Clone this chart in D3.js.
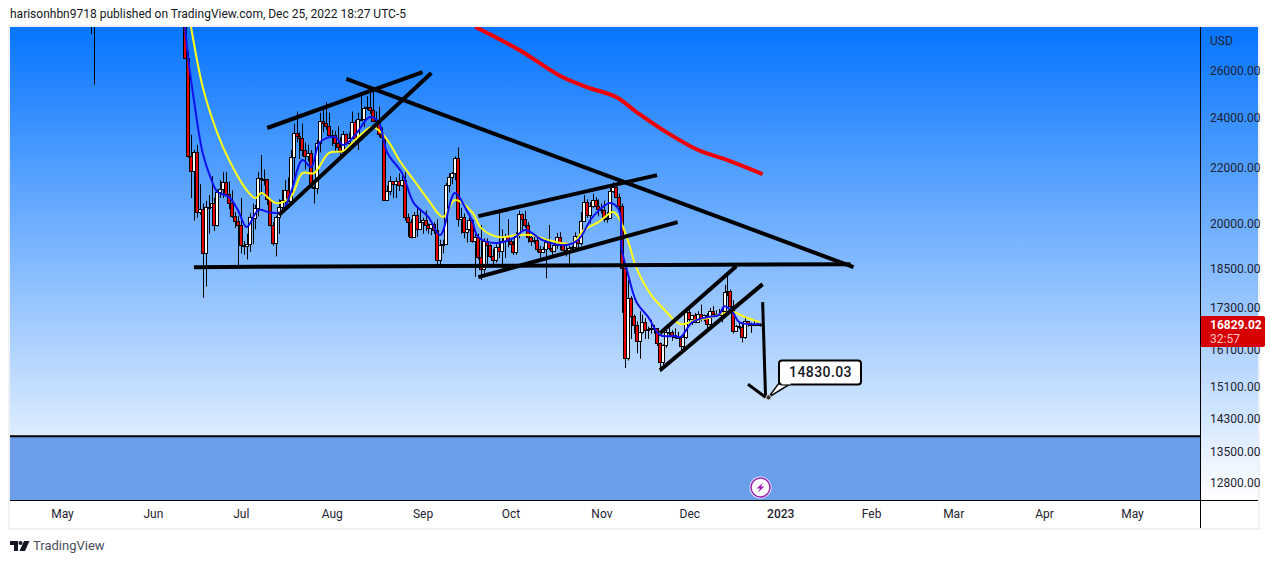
<!DOCTYPE html>
<html><head><meta charset="utf-8">
<script src="https://d3js.org/d3.v7.min.js"></script>
<style>html,body{margin:0;padding:0;background:#fff;overflow:hidden}svg{display:block}text{font-family:Roboto,sans-serif}</style>
</head><body><svg id="c" width="1280" height="563"></svg>
<script>
// Daily candles start on firstDay; every open is the previous close.
const firstDay = "2022-06-11";
const seedOpen = 29080;
const closes = [28400,26570,22480,21900,22600,20400,20500,19000,20570,20570,20710,19960,21100,21230,21490,21040,20730,20270,20100,19940,
19270,19240,19300,20230,20190,20550,21640,21590,21590,20850,19960,19330,20210,20580,20830,21190,20780,22430,23390,23230,23160,22680,22450,22580,21310,21250,22960,23840,23770,23650,23290,
23270,22980,22820,22620,23310,22960,23170,23810,23150,23950,23930,24400,24440,24300,23860,23890,23330,23210,20830,21140,21520,21400,21530,21370,21560,20240,20040,19550,20290,19800,20050,
20130,19950,19830,20000,19790,18790,19290,19320,21360,21650,21830,22400,20170,20230,19700,19800,20110,19420,19540,18880,18490,19400,19290,18920,18800,19220,19080,19410,19590,19420,
19310,19060,19630,20340,20160,19960,19530,19420,19440,19130,19060,19150,19380,19180,19070,19260,19550,19330,19120,19040,19160,19200,19570,19330,20080,20770,20290,20600,20820,20630,20490,
20480,20150,20200,21140,21300,20920,20600,18540,15880,17590,17070,16800,16330,16610,16890,16660,16690,16700,16700,16280,15770,16220,16600,16600,16520,16460,16430,16210,16440,17170,
16970,17090,16890,17110,16970,17090,16840,17220,17130,17130,17080,17210,17780,17810,17360,16630,16780,16740,16440,16900,16820,16830,16830,16840,16829.02];
const highs = [29400,28500,26900,23300,22700,22900,21400,20700,20800,21000,21700,20900,21200,21550,21850,21850,21500,21180,20400,20250,
20900,19400,19650,20350,20700,20650,21850,22500,21950,21600,20850,20050,20250,20850,21200,21550,21650,22700,23750,24250,23400,23750,22990,22900,22700,21350,23100,24200,24450,24650,24200,
23500,23450,23650,23200,23450,23350,23400,24250,23900,24200,24900,24450,24900,25050,25200,24250,24450,23600,23200,21350,21700,21500,21650,21800,21800,21850,20350,20150,20400,20550,20500,
20200,20450,20000,20050,20050,20150,19450,19450,21450,21800,21850,22450,22800,20550,20350,19900,20200,20150,19700,19650,19950,19500,19500,19300,19150,19300,20400,19800,19650,20150,
19480,19400,19700,20450,20350,20450,20050,19600,19550,19520,19250,19220,19500,19950,19220,19400,19680,19700,19350,19350,19250,19250,19700,19600,20400,21000,20850,20750,21050,20930,20850,
20700,20800,20400,21300,21480,21350,21050,20700,18600,18150,17650,17100,16900,17200,17100,17000,16750,16950,16800,16700,16300,16250,16700,16800,16650,16700,16600,16480,16550,17250,
17300,17100,17150,17200,17400,17100,17140,17300,17350,17230,17270,17240,18000,18380,17850,17530,16800,16870,16820,17050,16900,16870,16950,16870,16850];
const lows = [28100,26560,22400,20900,20100,20200,20300,17600,17950,19650,20350,19750,19900,20900,20900,20950,20500,20200,19850,18600,
19000,18950,18800,19050,19300,19800,20250,21000,21350,20650,19900,19250,18900,19650,20400,20500,20750,20750,21600,23000,22350,22450,21950,22250,21250,20700,21050,22600,23400,23500,23200,
22850,22650,22700,22450,22600,22900,22850,23150,22900,22700,23850,23600,24300,24150,23800,23650,23200,23100,20800,20800,21000,20900,20900,21150,21300,20100,19550,19500,19550,19550,19800,
19650,19750,19650,19600,19650,18650,18550,19000,19300,21100,21400,21550,19900,19650,19500,19350,19750,19350,18250,18800,18150,18350,18550,18850,18650,18700,18850,18500,18850,19200,
19150,18950,18950,19500,19750,19850,19350,19250,19320,19030,18850,19010,18200,19100,18950,19060,19150,19100,19070,18900,18650,19100,19070,19150,19250,20050,20200,20000,20550,20500,20250,
20350,20050,20030,20180,21080,20900,20400,17150,15600,15800,16400,16550,16000,15850,16550,16400,16400,16550,16550,16200,15500,15650,16150,16450,16350,16400,16400,16000,16100,16400,
16850,16800,16850,16880,16900,16900,16700,16750,17100,17090,17070,16870,17100,17650,17300,16550,16600,16680,16300,16400,16750,16570,16780,16810,16750];
// Two May candles whose lows reach into the window.
const mayDays = ["2022-05-11","2022-05-12"];
const mayOpens = [31000,29000];
const mayCloses = [29000,29000];
const mayHighs = [32000,30000];
const mayLows = [27700,25400];

const fastDates = ["2022-06-12","2022-06-13","2022-06-15","2022-06-18","2022-06-21","2022-06-23","2022-06-27","2022-06-30","2022-07-03","2022-07-07","2022-07-11","2022-07-15","2022-07-18","2022-07-22","2022-07-25","2022-07-28","2022-08-02","2022-08-05","2022-08-09","2022-08-14","2022-08-17","2022-08-20","2022-08-25","2022-08-29","2022-09-03","2022-09-07","2022-09-12","2022-09-16","2022-09-18","2022-09-20","2022-09-26","2022-10-02","2022-10-06","2022-10-12","2022-10-19","2022-10-24","2022-10-29","2022-11-04","2022-11-07","2022-11-08","2022-11-10","2022-11-13","2022-11-17","2022-11-21","2022-11-26","2022-11-28","2022-12-02","2022-12-07","2022-12-11","2022-12-13","2022-12-16","2022-12-18","2022-12-25"];
const fastValues = [28046,26634,24734,22578,21554,21119,20930,20467,19877,20467,20384,20410,21075,22308,22040,23010,23208,22892,23288,24021,23815,22578,21815,20716,20223,19606,21075,20467,20077,19539,19338,19505,19775,19438,19270,19438,20223,20716,20467,19106,18364,17470,17025,16507,16480,16453,16880,17025,17085,17350,17144,16880,16829];
const slowDates = ["2022-06-13","2022-06-14","2022-06-18","2022-06-23","2022-06-27","2022-07-03","2022-07-06","2022-07-08","2022-07-13","2022-07-18","2022-07-22","2022-07-26","2022-07-31","2022-08-05","2022-08-09","2022-08-15","2022-08-20","2022-08-24","2022-08-29","2022-09-03","2022-09-08","2022-09-12","2022-09-18","2022-09-21","2022-09-27","2022-10-03","2022-10-08","2022-10-14","2022-10-22","2022-10-26","2022-10-31","2022-11-05","2022-11-07","2022-11-10","2022-11-13","2022-11-18","2022-11-22","2022-11-28","2022-12-03","2022-12-07","2022-12-13","2022-12-16","2022-12-20","2022-12-25"];
const slowValues = [28800,28046,25294,23368,22308,21184,20893,21075,20716,20930,21815,21815,22578,22656,23089,23611,23089,22308,21554,20823,20223,20823,20384,19842,19539,19606,19606,19438,19338,19775,20049,20397,20188,19438,18523,17682,17291,16822,16937,16995,17144,17174,17025,16880];
const longDates = ["2022-09-19","2022-10-04","2022-10-18","2022-10-27","2022-11-06","2022-11-13","2022-11-22","2022-12-04","2022-12-14","2022-12-26"];
const longValues = [28046,26956,25777,25294,24863,24228,23490,22696,22308,21776];

// Hand-drawn trendlines: start date, start price, end date, end price.
const trendStartDates = ["2022-07-10","2022-07-14","2022-08-06","2022-06-15","2022-09-20","2022-09-20","2022-11-21","2022-11-21"];
const trendStartPrices = [23572,20292,25646,18555,20257,18238,16563,15540];
const trendEndDates = ["2022-09-01","2022-09-04","2023-01-26","2023-01-25","2022-11-20","2022-11-27","2022-12-17","2022-12-26"];
const trendEndPrices = [25955,25911,18555,18650,21738,20049,18587,18020];
const targetPrice = 14830.03;
const targetDate = "2022-12-27";
const calloutDate = "2022-12-28";
const arrowTails = [["2022-12-26",17472],["2022-12-21",15171]];
const supportBandTop = 13870;

const priceTicks = [26000,24000,22000,20000,18500,17300,16100,15100,14300,13500,12800];
const monthDates = ["2022-05-01","2022-06-01","2022-07-01","2022-08-01","2022-09-01","2022-10-01","2022-11-01","2022-12-01","2023-01-01","2023-02-01","2023-03-01","2023-04-01","2023-05-01"];
const monthLabels = ["May","Jun","Jul","Aug","Sep","Oct","Nov","Dec","2023","Feb","Mar","Apr","May"];

const parse = d3.utcParse("%Y-%m-%d");
const svg = d3.select("#c");
const L=10,R=1258,T=27,B=500,AX=1200,BOT=528;
const x = d3.scaleUtc().domain([parse("2022-05-01"),parse("2023-05-01")]).range([62,1132]);
const y = d3.scaleLog().domain([26000,12800]).range([71,483]);

const defs = svg.append("defs");
const g = defs.append("linearGradient").attr("id","bg").attr("x1",0).attr("y1",0).attr("x2",0).attr("y2",1);
g.append("stop").attr("offset",0).attr("stop-color","#0775ff");
g.append("stop").attr("offset",1).attr("stop-color","#ffffff");
defs.append("clipPath").attr("id","pane").append("rect").attr("x",L).attr("y",T).attr("width",AX-L).attr("height",B-T);

svg.append("rect").attr("x",L-1).attr("y",T-1).attr("width",R-L+2).attr("height",BOT-T+2).attr("fill","#fff").attr("stroke","#e0e3eb").attr("stroke-width",1);
svg.append("rect").attr("x",L).attr("y",T).attr("width",R-L).attr("height",B-T).attr("fill","url(#bg)");

const pane = svg.append("g").attr("clip-path","url(#pane)");
const bandY = y(supportBandTop);
pane.append("rect").attr("x",L).attr("y",bandY).attr("width",AX-L).attr("height",B-bandY).attr("fill","#6b9ee8");
pane.append("line").attr("x1",L).attr("x2",AX).attr("y1",bandY).attr("y2",bandY).attr("stroke","#000").attr("stroke-width",2);

const t0 = parse(firstDay);
const candles = closes.map((c,i)=>({d:d3.utcDay.offset(t0,i),o:i?closes[i-1]:seedOpen,h:highs[i],l:lows[i],c}));
mayDays.forEach((s,i)=>candles.push({d:parse(s),o:mayOpens[i],h:mayHighs[i],l:mayLows[i],c:mayCloses[i]}));
const snap=v=>Math.round(v)+.5;

pane.append("g").selectAll("line").data(candles).join("line")
  .attr("x1",d=>Math.round(x(d.d))+.5).attr("x2",d=>Math.round(x(d.d))+.5)
  .attr("y1",d=>y(d.h)).attr("y2",d=>y(d.l)).attr("stroke","#000").attr("stroke-width",1);
pane.append("g").selectAll("rect").data(candles).join("rect")
  .attr("x",d=>Math.round(x(d.d))-1.5).attr("width",3)
  .attr("y",d=>snap(y(Math.max(d.o,d.c))))
  .attr("height",d=>Math.max(1,snap(y(Math.min(d.o,d.c)))-snap(y(Math.max(d.o,d.c)))))
  .attr("fill",d=>d.c>=d.o?"#fff":"#e60000").attr("stroke","#000").attr("stroke-width",1);

const lineGen = d3.line().x(d=>x(d[0])).y(d=>y(d[1])).curve(d3.curveCatmullRom.alpha(.5));
const ser=(ds,vs)=>ds.map((s,i)=>[parse(s),vs[i]]);
pane.append("path").attr("d",lineGen(ser(slowDates,slowValues))).attr("fill","none").attr("stroke","#ffff14").attr("stroke-width",2);
pane.append("path").attr("d",lineGen(ser(fastDates,fastValues))).attr("fill","none").attr("stroke","#1010f0").attr("stroke-width",2);
pane.append("path").attr("d",lineGen(ser(longDates,longValues))).attr("fill","none").attr("stroke","#f00000").attr("stroke-width",4);

pane.append("g").selectAll("line").data(trendStartDates.map((s,i)=>i)).join("line")
  .attr("x1",i=>x(parse(trendStartDates[i]))).attr("y1",i=>y(trendStartPrices[i]))
  .attr("x2",i=>x(parse(trendEndDates[i]))).attr("y2",i=>y(trendEndPrices[i]))
  .attr("stroke","#000").attr("stroke-width",4);

const tx=x(parse(targetDate)), ty=y(targetPrice), cx=x(parse(calloutDate));
pane.append("g").selectAll("line").data(arrowTails).join("line")
  .attr("x1",d=>x(parse(d[0]))).attr("y1",d=>y(d[1])).attr("x2",tx).attr("y2",ty)
  .attr("stroke","#000").attr("stroke-width",3);

// callout
const cal = svg.append("g");
cal.append("path").attr("d",`M${cx},${ty} L${cx+11},${ty-15} L${cx+24},${ty-15} Z`).attr("fill","#fff").attr("stroke","#000").attr("stroke-width",1.5);
cal.append("rect").attr("x",cx+10.5).attr("y",ty-37).attr("width",82).attr("height",24).attr("rx",3).attr("fill","#fff").attr("stroke","#000").attr("stroke-width",2);
cal.append("path").attr("d",`M${cx+13},${ty-14.5} L${cx+22},${ty-14.5}`).attr("stroke","#fff").attr("stroke-width",3);
cal.append("text").attr("x",cx+52).attr("y",ty-20).attr("text-anchor","middle").attr("font-size",14).attr("font-weight",500).attr("letter-spacing",.4).attr("fill","#131722").text(d3.format(".2f")(targetPrice));
cal.append("circle").attr("cx",cx).attr("cy",ty).attr("r",2.5).attr("fill","#333").attr("stroke","#ccc").attr("stroke-width",1);

// event icon
const ic = svg.append("g").attr("transform","translate(760.5,487.5)");
ic.append("circle").attr("r",11).attr("fill","#fff").attr("opacity",.9);
ic.append("circle").attr("r",9.5).attr("fill","#fff").attr("stroke","#9c27b0").attr("stroke-width",1.6);
ic.append("path").attr("d","M2.5,-5 L-4,1 L-0.5,1 L-2.5,5 L4,-1 L0.5,-1 Z").attr("fill","#9c27b0");

// frame lines
svg.append("line").attr("x1",L).attr("x2",R).attr("y1",B+.5).attr("y2",B+.5).attr("stroke","#000");
svg.append("line").attr("x1",AX+.5).attr("x2",AX+.5).attr("y1",T).attr("y2",BOT).attr("stroke","#000");

// axes
const yAxis = svg.append("g").attr("transform",`translate(${AX+10},0)`)
  .call(d3.axisRight(y).tickValues(priceTicks).tickSize(0).tickPadding(0).tickFormat(d3.format(".2f")));
yAxis.select(".domain").remove();
yAxis.selectAll("text").attr("font-size",12).attr("fill","#1d2230").attr("font-family","Roboto,sans-serif");
svg.append("text").attr("x",AX+10).attr("y",45).attr("font-size",12).attr("fill","#1d2230").text("USD");

const xAxis = svg.append("g").attr("transform",`translate(0,${B+6})`)
  .call(d3.axisBottom(x).tickValues(monthDates.map(parse)).tickSize(0).tickPadding(3).tickFormat((d,i)=>monthLabels[i]));
xAxis.select(".domain").remove();
xAxis.selectAll("text").attr("font-size",12).attr("fill","#1d2230").attr("font-family","Roboto,sans-serif")
  .attr("font-weight",(d,i)=>monthLabels[i]==="2023"?500:400);

// last price label
const lastPrice = closes[closes.length-1];
const ly = y(lastPrice);
const lab = svg.append("g");
lab.append("path").attr("d",`M${AX+1},${ly-8} H1263 a2,2 0 0 1 2,2 V${ly+21} a2,2 0 0 1 -2,2 H${AX+1} Z`).attr("fill","#d60000");
lab.append("text").attr("x",AX+10).attr("y",ly+5).attr("font-size",12).attr("font-weight",700).attr("fill","#fff").text(d3.format(".2f")(lastPrice));
lab.append("text").attr("x",AX+10).attr("y",ly+19).attr("font-size",12).attr("fill","#ffc4c4").text("32:57");

// header & footer
svg.append("text").attr("x",10).attr("y",18).attr("font-size",12).attr("fill","#131722").attr("textLength",396).attr("lengthAdjust","spacing").text("harisonhbn9718 published on TradingView.com, Dec 25, 2022 18:27 UTC-5");
const logo = svg.append("g").attr("transform","translate(10,541)").attr("fill","#131722");
logo.append("path").attr("d","M0,0 H8 V10 H4 V4 H0 Z");
logo.append("circle").attr("cx",10.5).attr("cy",2).attr("r",2);
logo.append("path").attr("d","M14,0 H19.5 L15,10 H9.5 Z");
svg.append("text").attr("x",33).attr("y",550).attr("font-size",13).attr("fill","#4a4e59").text("TradingView");
</script></body></html>
